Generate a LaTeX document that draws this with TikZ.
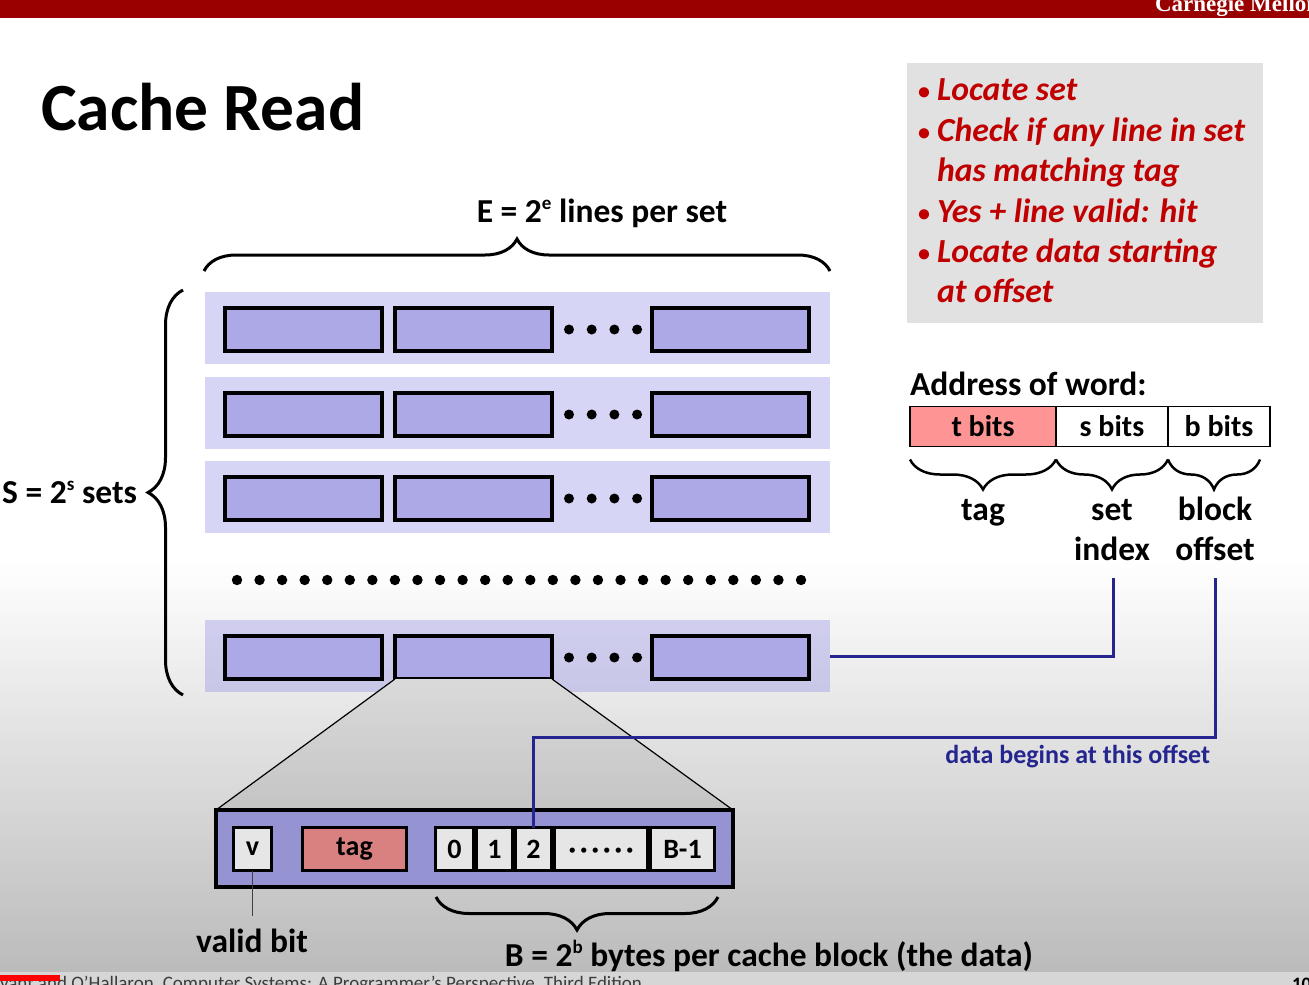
\documentclass[tikz,border=0pt]{standalone}
\usepackage{fontspec}
\setmainfont{Carlito}
\newfontfamily\headfont{Liberation Serif}
\usetikzlibrary{decorations.pathreplacing,calc}

\definecolor{cmured}{HTML}{990000}
\definecolor{setbase}{HTML}{8D87E5}
\definecolor{linefill}{HTML}{ADA9E6}
\definecolor{blockfill}{HTML}{9693D2}
\definecolor{cellfill}{HTML}{E6E6E6}
\definecolor{tagfill}{HTML}{D98080}
\definecolor{tbitfill}{HTML}{FF9494}
\definecolor{notegray}{HTML}{E1E1E1}
\definecolor{notered}{HTML}{C00000}
\definecolor{navy}{HTML}{25258F}
\definecolor{traptop}{HTML}{DADADA}
\definecolor{trapbot}{HTML}{C4C4C4}
\definecolor{bgbot}{HTML}{BBBBBB}
\definecolor{footgray}{HTML}{D6D6D6}
\definecolor{foottext}{HTML}{3C3C3C}

% small raised exponent letter
\newcommand{\expo}[1]{\raisebox{0.36em}{\fontsize{19}{19}\selectfont #1}}

\begin{document}
\begin{tikzpicture}[x=1pt,y=-1pt,
  every node/.style={inner sep=0pt, outer sep=0pt},
  setrow/.style={fill=setbase, fill opacity=0.35, minimum width=625pt, minimum height=72pt},
  linebox/.style={draw=black, line width=4pt, fill=linefill, minimum width=157pt, minimum height=43pt},
  big/.style={font=\fontsize{33.5}{38}\selectfont\bfseries},
  note/.style={font=\fontsize{33.7}{40}\selectfont\bfseries\itshape, text=notered, anchor=base west},
  bulletmark/.style={font=\fontsize{24}{24}\selectfont\bfseries, text=notered, anchor=base},
  cell/.style={draw=black, line width=3pt, fill=cellfill, minimum height=43pt, font=\fontsize{28}{32}\selectfont\bfseries},
  addr/.style={draw=black, line width=1.5pt, minimum height=40pt, font=\fontsize{30}{34}\selectfont\bfseries},
  curly/.style={decorate, decoration={brace, amplitude=#1}, line width=3pt},
  dataline/.style={draw=navy, line width=3pt},
]
\useasboundingbox (0,0) rectangle (1309,985);
\clip (0,0) rectangle (1309,985);

% slide background
\fill[white] (0,0) rectangle (1309,985);
\shade[top color=white, bottom color=bgbot] (0,560) rectangle (1309,972);
\fill[cmured] (0,0) rectangle (1309,18);
\node[anchor=base west, text=white, font={\headfont\bfseries\fontsize{23}{23}\selectfont}] (cmu) at (1155,12) {Carnegie Mellon};

% title
\node[anchor=base west, font=\fontsize{67.5}{70}\selectfont\bfseries] (title) at (41,130) {Cache Read};

% sets of cache lines
\foreach \r/\yt in {1/292,2/377,3/461,4/620} {
  \node[setrow] (set\r) at (517.5,\yt+36) {};
  \node[linebox] (l\r1) at (303.5,\yt+37.5) {};
  \node[linebox] (l\r2) at (473.5,\yt+37.5) {};
  \node[linebox] (l\r3) at (730.5,\yt+37.5) {};
  \foreach \k in {0,...,3}
    \fill (569+22.7*\k,\yt+37.5) circle (5);
}
\foreach \k in {0,...,25}
  \fill (237+22.56*\k,580) circle (5.2);

% braces around the sets
\draw[curly=32] (204,271) -- (830,271);
\draw[curly=35] (183,695) -- (183,290);
\node[big, anchor=base] (etext) at (602,222) {E = 2\expo{e} lines per set};
\node[big, anchor=base east] (stext) at (137,503) {S = 2\expo{s} sets};

% zoom onto one line
\node[draw=black, line width=4pt, fill=blockfill, minimum width=517pt, minimum height=77pt] (blk) at (474.5,848.5) {};
\shade[top color=traptop, bottom color=trapbot]
  (l42.south west) -- (l42.south east) -- (blk.north east) -- (blk.north west) -- cycle;
\draw[line width=1.2pt] (l42.south west) -- (blk.north west) (l42.south east) -- (blk.north east);
\node[draw=black, line width=4pt, fill=blockfill, minimum width=517pt, minimum height=77pt] (blk) at (474.5,848.5) {};

\node[cell, minimum width=38pt] (vb) at (252.5,849) {v};
\node[cell, fill=tagfill, minimum width=104pt] (tagb) at (354.5,849) {tag};
\node[cell, minimum width=38pt] (b0) at (454.5,849) {0};
\node[cell, minimum width=36pt] (b1) at (494.5,849) {1};
\node[cell, minimum width=36pt] (b2) at (533.5,849) {2};
\node[cell, minimum width=93pt] (bd) at (601,849) {\vphantom{0}·\kern4pt·\kern4pt·\kern4pt·\kern4pt·\kern4pt·};
\node[cell, minimum width=64pt] (bl) at (682.5,849) {B-1};

\coordinate (vpin) at (252.5,916);
\draw[line width=1.5pt, draw=black!75] (vb.south) -- (vpin);
\node[big, anchor=base] (vlab) at (252,952) {valid bit};

\draw[curly=33] (718,897) -- (436,897);
\node[big, anchor=base] (btext) at (769,966) {B = 2\expo{b} bytes per cache block (the data)};

% note box
\node[fill=notegray, minimum width=356pt, minimum height=260pt] (note) at (1085,193) {};
\node[bulletmark] (n1b) at (924,99) {•};
\node[note] (n1) at (937,100) {Locate set};
\node[bulletmark] (n2b) at (924,140) {•};
\node[note] (n2) at (937,141) {Check if any line in set};
\node[note] (n3) at (937,181) {has matching tag};
\node[bulletmark] (n4b) at (924,221) {•};
\node[note] (n4) at (937,222) {Yes + line valid: hit};
\node[bulletmark] (n5b) at (924,261) {•};
\node[note] (n5) at (937,262) {Locate data starting};
\node[note] (n6) at (937,302) {at offset};

% address fields
\node[big, anchor=base west] (addrt) at (910,395) {Address of word:};
\node[addr, fill=tbitfill, minimum width=146pt] (tb) at (983,426.5) {t bits};
\node[addr, fill=white, minimum width=112pt] (sb) at (1112,426.5) {s bits};
\node[addr, fill=white, minimum width=102pt] (bb) at (1219,426.5) {b bits};

\draw[curly=30, line width=2.5pt] ($(tb.south east)+(0,13)$) -- ($(tb.south west)+(0,13)$);
\draw[curly=30, line width=2.5pt] ($(sb.south east)+(0,13)$) -- ($(sb.south west)+(0,13)$);
\draw[curly=30, line width=2.5pt] ($(bb.south east)+(-10,13)$) -- ($(bb.south west)+(0,13)$);

\node[big, anchor=base] (tagl) at (983,520) {tag};
\node[big, anchor=base] (setl) at (1112,520) {set};
\node[big, anchor=base] (idx) at (1112,560) {index};
\node[big, anchor=base] (blkl) at (1215,520) {block};
\node[big, anchor=base] (off) at (1215,560) {offset};

% index and offset connectors
\coordinate (idxpin) at (1113,578);
\coordinate (offpin) at (1215,578);
\coordinate (turn) at (533.5,737);
\draw[dataline] (set4.east) -| (idxpin);
\draw[dataline] (offpin) |- (turn) -- (b2.north);
\node[anchor=base east, font=\fontsize{26}{28}\selectfont\bfseries, text=navy] (dtext) at (1210,763) {data begins at this offset};

% footer
\fill[footgray] (0,972) rectangle (1309,985);
\node[anchor=base west, font=\fontsize{19}{20}\selectfont, text=foottext] (foot) at (-17,989) {Bryant and O’Hallaron, Computer Systems: A Programmer’s Perspective, Third Edition};
\fill[red] (0,975) rectangle (60,981);
\node[anchor=base west, font=\fontsize{19}{20}\selectfont\bfseries] (pg) at (1292,990) {10};
\end{tikzpicture}
\end{document}
